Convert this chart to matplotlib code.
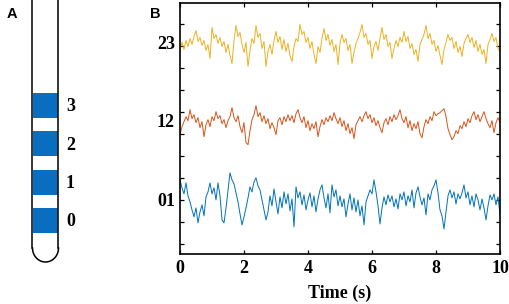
import numpy as np
import matplotlib
matplotlib.use('Agg')
import matplotlib.pyplot as plt
from matplotlib.patches import Rectangle

# sampled traces (1/16 s steps, 0..10 s), amplitude in arbitrary units
fs = 16
ch01 = [22, 14, 8, 19, 6, 0, -8, -15, -6, -21, -10,
        -3, -14, 5, 10, 19, 8, 14, 2, 19, 6,
        -18, -21, -6, 12, 29, 22, 18, 9, 0, -12,
        -23, -15, -6, 4, 15, 10, 20, 24, 16, 12,
        2, -8, -18, -10, 6, -4, 13, 0, -12, 5,
        -6, 10, -2, 8, -9, 3, -25, 15, 4, 10,
        -3, 7, -8, 2, 9, -5, 6, -10, 3, 12,
        17, 4, -6, 8, -11, 17, 5, 12, -4, 6,
        -5, 3, -15, -2, 8, -8, 4, -10, 2, -14,
        -4, -23, 0, 6, 12, 8, 22, 10, -4, -22,
        -6, 5, -3, 7, 0, 6, -5, 3, -7, 8,
        2, 10, -4, 6, 0, 12, -6, 9, 15, 5,
        -3, 4, -13, 8, 2, 12, 16, 22, 9, -8,
        -14, -27, -10, 6, 12, 4, 10, -2, 8, 3,
        9, 17, 4, 10, -3, 6, -5, 8, 2, -8,
        3, -6, -18, -4, 7, 2, 8, -3, 5, -13]
ch12 = [-10, -2, 3, 8, 4, 15, 6, 10, 2, 7, -3,
        3, -12, 0, 5, -2, 8, 4, 13, 6, 9,
        1, 5, -3, 4, 8, 17, 7, 3, 9, -2,
        -8, 2, -18, -20, -6, 5, 10, 19, 8, 12,
        3, 9, 1, 6, -4, 2, -3, -10, 4, 7,
        0, 8, 3, 10, 4, 9, 2, 11, 15, 7,
        2, 8, -3, 4, -6, 1, -4, 3, -12, -2,
        5, 0, 7, 3, 9, 4, 12, 6, 1, 7,
        -2, 4, -6, 1, -9, -3, -14, 0, 4, 8,
        3, 9, 13, 6, 10, 2, 7, -1, 4, -3,
        -8, 2, 6, 0, 8, 3, 10, 5, 9, 15,
        6, 2, 8, -3, 4, -6, 1, -4, 3, -9,
        -13, -2, 5, 1, 8, 4, 13, 9, 11, 12,
        14, 16, 8, -4, -10, -15, -12, -6, -9, -1,
        -4, 3, -2, 6, 2, 9, 13, 5, 10, 3,
        8, 13, 6, 1, -3, 4, -8, 2, 7, 2]
ch23 = [-2, 4, -3, 6, 0, 8, 2, 10, 16, 5, 9,
        1, 6, -4, 2, -12, 19, 8, 12, 3, 9,
        0, 5, -6, 2, -9, -17, 6, 21, 10, 14,
        2, -6, 4, -20, -4, 8, 3, 21, 9, 13,
        -2, 5, -20, -5, 2, -8, 6, 15, 4, 10,
        -3, 7, -5, 3, -9, -15, 0, 8, 5, 22,
        12, 15, 4, 9, -2, 5, -8, -17, 0, -6,
        8, 18, 6, 12, 1, 7, -5, 2, -18, 3,
        12, 4, 8, -4, 2, -17, -6, 3, 8, 14,
        22, 9, 13, 2, 6, -12, 0, 5, -4, 8,
        19, 7, 12, 0, 4, -12, -2, 6, 0, 9,
        4, 15, 5, 10, -2, 3, -8, -3, -15, 2,
        7, 12, 21, 8, 13, 2, 6, -5, 1, -9,
        -18, -3, 4, 12, 6, 9, -2, 5, -6, 0,
        -10, 3, 8, 12, 4, 9, -1, 6, -5, 2,
        -8, -3, -17, 2, 7, 13, 5, 9, -2, -5]

channels = ['01', '12', '23']
signals = [ch01, ch12, ch23]
colors = ['#0072BD', '#D95319', '#EDB120']
contacts = ['0', '1', '2', '3']
xticks = [0, 2, 4, 6, 8, 10]

serif = ['Liberation Serif', 'DejaVu Serif']
fs_txt = 13
fig = plt.figure(figsize=(5.1, 3.04), dpi=100)

# panel A: probe drawn in pixel coordinates
axp = fig.add_axes([0, 0, 1, 1])
axp.set_xlim(0, 510)
axp.set_ylim(304, 0)
axp.axis('off')
lw_probe = 1.1
axp.plot([32.5, 32.5], [0, 248], color='black', lw=lw_probe)
axp.plot([58.5, 58.5], [0, 248], color='black', lw=lw_probe)
th = np.linspace(0, np.pi, 60)
axp.plot(45.5 + 13 * np.cos(th), 248 + 14 * np.sin(th), color='black', lw=lw_probe)
for k, name in enumerate(contacts):
    yc = 220.5 - 38.5 * k
    axp.add_patch(Rectangle((33.2, yc - 12.5), 24.6, 25, color='#0A6EC0', lw=0))
    axp.text(66, yc + 1.5, name, fontsize=fs_txt, fontweight='bold', family=serif,
             ha='left', va='center')
axp.text(7, 14, 'A', fontsize=10.5, fontweight='bold', family='Liberation Sans',
         ha='left', va='center')
axp.text(150, 14, 'B', fontsize=10.5, fontweight='bold', family='Liberation Sans',
         ha='left', va='center')

# panel B: traces
ax = fig.add_axes([180 / 510, 50 / 304, 320 / 510, 251 / 304])
gain = 1 / 22
spacing = 3.55
for k, (name, sig, c) in enumerate(zip(channels, signals, colors)):
    s = np.array(sig, dtype=float)
    s = s - s.mean()
    t = np.arange(len(s)) / fs
    base = 2 + spacing * k
    ax.plot(t, base + s * gain, color=c, lw=0.7)
    ax.text(-0.016, base - 0.05, name, transform=ax.get_yaxis_transform(),
            fontsize=fs_txt, fontweight='bold', family=serif, ha='right', va='center')

ax.set_xlim(0, 10)
ax.set_ylim(-0.45, 10.95)
ax.set_xticks(xticks)
ax.set_xticklabels([str(v) for v in xticks], fontsize=fs_txt, fontweight='bold', family=serif)
ax.set_yticks(range(11))
ax.set_yticklabels([])
ax.tick_params(direction='in', top=True, right=True, length=3, width=0.9, pad=4)
for sp in ax.spines.values():
    sp.set_linewidth(1.2)
ax.set_xlabel('Time (s)', fontsize=fs_txt, fontweight='bold', family=serif, labelpad=6)

fig.savefig('out.png', dpi=100)
